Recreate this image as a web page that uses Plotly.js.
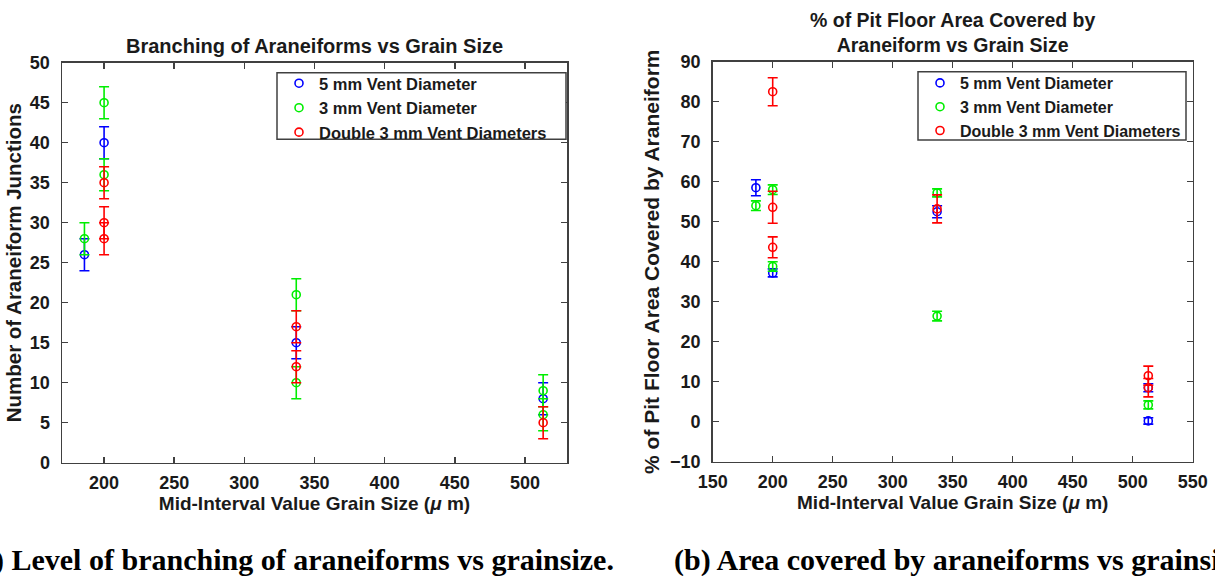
<!DOCTYPE html>
<html>
<head>
<meta charset="utf-8">
<script src="https://cdn.plot.ly/plotly-3.0.1.min.js"></script>
<style>html,body{margin:0;padding:0;background:#fff;} #chart{width:1215px;height:576px;}</style>
</head>
<body>
<div id="chart"></div>
<script>
// ---- Data: (a) Branching of araneiforms ----
const seriesNames = ["5 mm Vent Diameter", "3 mm Vent Diameter", "Double 3 mm Vent Diameters"];

const branchBlueX = [186, 200, 337, 513];
const branchBlueY = [26, 40, 15, 8];
const branchBlueErr = [2, 2, 2, 2];

const branchGreenX = [186, 200, 200, 337, 337, 513, 513];
const branchGreenY = [28, 45, 36, 21, 10, 9, 6];
const branchGreenErr = [2, 2, 2, 2, 2, 2, 2];

const branchRedX = [200, 200, 200, 337, 337, 513];
const branchRedY = [35, 30, 28, 17, 12, 5];
const branchRedErr = [2, 2, 2, 2, 2, 2];

// ---- Data: (b) % of pit floor area covered ----
const areaBlueX = [186, 200, 337, 513, 513];
const areaBlueY = [58.5, 37.2, 52.5, 8.5, 0.2];
const areaBlueErr = [2, 1, 1.5, 1, 0.8];

const areaGreenX = [186, 200, 200, 337, 337, 513];
const areaGreenY = [54, 58, 38.8, 57.2, 26.4, 4.2];
const areaGreenErr = [1.2, 1.2, 1.2, 1, 1.2, 1];

const areaRedX = [200, 200, 200, 337, 513, 513];
const areaRedY = [82.5, 53.6, 43.6, 53.2, 11.5, 8.5];
const areaRedErr = [3.5, 4, 2.6, 3.5, 2.4, 2.3];

const colors = ["#0000ff", "#00ee00", "#ff0000"];

function mk(x, y, err, i, xa, ya, leg) {
  return {
    type: "scatter", mode: "markers", x: x, y: y,
    name: seriesNames[i], xaxis: xa, yaxis: ya, legend: leg,
    marker: {symbol: "circle-open", size: 8, color: colors[i], line: {width: 1.6, color: colors[i]}},
    error_y: {type: "data", array: err, visible: true, color: colors[i], thickness: 1.6, width: 5}
  };
}

const data = [
  mk(branchBlueX, branchBlueY, branchBlueErr, 0, "x", "y", "legend"),
  mk(branchGreenX, branchGreenY, branchGreenErr, 1, "x", "y", "legend"),
  mk(branchRedX, branchRedY, branchRedErr, 2, "x", "y", "legend"),
  mk(areaBlueX, areaBlueY, areaBlueErr, 0, "x2", "y2", "legend2"),
  mk(areaGreenX, areaGreenY, areaGreenErr, 1, "x2", "y2", "legend2"),
  mk(areaRedX, areaRedY, areaRedErr, 2, "x2", "y2", "legend2")
];

const axCol = "#404040";
const txtCol = "#1a1a1a";
const SANS = "Liberation Sans, Arial, sans-serif";
function f(size) { return {family: SANS, size: size, color: txtCol, weight: "bold"}; }
const tickFont = f(18);

function axis(extra) {
  return Object.assign({
    showline: true, linecolor: axCol, linewidth: 1.5, mirror: "ticks",
    ticks: "inside", ticklen: 6, tickwidth: 1.5, tickcolor: axCol,
    showgrid: false, zeroline: false, tickfont: tickFont, fixedrange: true
  }, extra);
}

const W = 1215, H = 576;
const layout = {
  width: W, height: H,
  margin: {l: 0, r: 0, t: 0, b: 0},
  paper_bgcolor: "#fff", plot_bgcolor: "#fff",
  showlegend: true,
  xaxis: axis({domain: [62 / W, 567 / W], range: [170, 530], tick0: 0, dtick: 50, anchor: "y",
    ticklabelstandoff: 3,
    title: {text: "Mid-Interval Value Grain Size (<i>μ</i> m)", font: f(19), standoff: 3}}),
  yaxis: axis({domain: [1 - 462.7 / H, 1 - 62.7 / H], range: [0, 50], tick0: 0, dtick: 5, anchor: "x",
    ticklabelstandoff: 7,
    title: {text: "Number of Araneiform Junctions", font: f(20.5), standoff: 2}}),
  xaxis2: axis({domain: [712.7 / W, 1192.7 / W], range: [150, 550], tick0: 0, dtick: 50, anchor: "y2",
    ticklabelstandoff: 3,
    title: {text: "Mid-Interval Value Grain Size (<i>μ</i> m)", font: f(19), standoff: 3}}),
  yaxis2: axis({domain: [1 - 461.7 / H, 1 - 61.7 / H], range: [-10, 90], tick0: 0, dtick: 10, anchor: "x2",
    ticklabelstandoff: 7,
    title: {text: "% of Pit Floor Area Covered by Araneiform", font: f(21), standoff: 4}}),
  legend: {x: 279 / W, y: 1 - 66 / H, xanchor: "left", yanchor: "top",
    bgcolor: "rgba(0,0,0,0)", borderwidth: 0,
    font: f(16.5), tracegroupgap: 0, itemclick: false, itemdoubleclick: false},
  legend2: {x: 920 / W, y: 1 - 66 / H, xanchor: "left", yanchor: "top",
    bgcolor: "rgba(0,0,0,0)", borderwidth: 0,
    font: f(16), tracegroupgap: 0, itemclick: false, itemdoubleclick: false},
  shapes: [
    {type: "rect", xref: "paper", yref: "paper", x0: 277 / W, x1: 566 / W, y0: 1 - 139.3 / H, y1: 1 - 72.7 / H,
      line: {color: axCol, width: 1.5}, fillcolor: "#fff", layer: "above"},
    {type: "rect", xref: "paper", yref: "paper", x0: 918 / W, x1: 1186 / W, y0: 1 - 140 / H, y1: 1 - 71.7 / H,
      line: {color: axCol, width: 1.5}, fillcolor: "#fff", layer: "above"}
  ],
  annotations: [
    {text: "Branching of Araneiforms vs Grain Size", xref: "paper", yref: "paper",
      x: (62 + 567) / 2 / W, y: 1 - 46 / H, xanchor: "center", yanchor: "middle", showarrow: false,
      font: f(20)},
    {text: "% of Pit Floor Area Covered by<br>Araneiform vs Grain Size", xref: "paper", yref: "paper",
      x: (712.7 + 1192.7) / 2 / W, y: 1 - 32 / H, xanchor: "center", yanchor: "middle", showarrow: false,
      font: f(19.5)},
    {text: "(a) Level of branching of araneiforms vs grainsize.", xref: "paper", yref: "paper",
      x: 616 / W, y: 1 - 560 / H, xanchor: "right", yanchor: "middle", showarrow: false,
      font: {family: "Liberation Serif, Times New Roman, serif", size: 30, color: "#000", weight: "bold"}},
    {text: "(b) Area covered by araneiforms vs grainsize.", xref: "paper", yref: "paper",
      x: 672 / W, y: 1 - 560 / H, xanchor: "left", yanchor: "middle", showarrow: false,
      font: {family: "Liberation Serif, Times New Roman, serif", size: 30, color: "#000", weight: "bold"}}
  ]
};

Plotly.newPlot("chart", data, layout, {displayModeBar: false, staticPlot: true});
</script>
</body>
</html>
